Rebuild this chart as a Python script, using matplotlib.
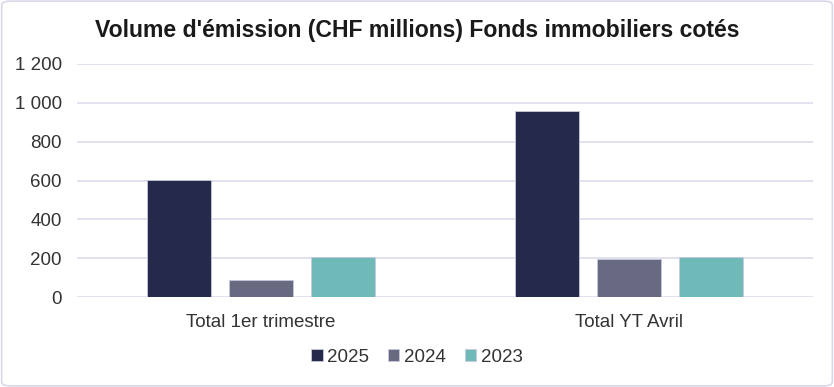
import matplotlib.pyplot as plt
import numpy as np
from matplotlib.patches import FancyBboxPatch

plt.rcParams['font.family'] = ['Liberation Sans', 'DejaVu Sans']

categories = ['Total 1er trimestre', 'Total YT Avril']
series = ['2025', '2024', '2023']
values = {
    '2025': [603, 958],
    '2024': [87, 198],
    '2023': [207, 208],
}
colors = {'2025': '#262a4a', '2024': '#686a82', '2023': '#6fbab9'}
yticks = [0, 200, 400, 600, 800, 1000, 1200]
yticklabels = ['0', '200', '400', '600', '800', '1 000', '1 200']

fig = plt.figure(figsize=(8.34, 3.87), dpi=100)
ax = fig.add_axes([77 / 834, 1 - 297 / 387, 736 / 834, 233 / 387])

x = np.arange(len(categories))
width = 0.174
step = 0.2228
for i, s in enumerate(series):
    ax.bar(x + (i - 1) * step, values[s], width, color=colors[s], label=s,
           edgecolor='#c8c8dc', linewidth=0.6, zorder=3)

ax.set_xlim(-0.5, 1.5)
ax.set_ylim(0, 1200)
ax.set_yticks(yticks)
ax.set_yticklabels(yticklabels)
ax.set_xticks(x)
ax.set_xticklabels(categories)
ax.grid(axis='y', color='#dcdcee', linewidth=1.2, zorder=0)
ax.tick_params(axis='both', length=0, labelsize=13.5, colors='#333333')
ax.tick_params(axis='y', pad=11)
ax.tick_params(axis='x', pad=12)
for sp in ax.spines.values():
    sp.set_visible(False)

fig.suptitle("Volume d'émission (CHF millions) Fonds immobiliers cotés",
             x=0.5, y=1 - 30 / 387, va='center', fontsize=16.6,
             fontweight='bold', color='#1a1a1a')

handles, labels = ax.get_legend_handles_labels()
fig.legend(handles, labels, loc='center', bbox_to_anchor=(0.5, 1 - 357 / 387), ncol=3,
           frameon=False, fontsize=13.5, handlelength=0.6, handleheight=0.6,
           handletextpad=0.25, columnspacing=1.0, labelcolor='#333333')

border = FancyBboxPatch((0.002, 0.003), 0.996, 0.994, boxstyle='round,pad=0,rounding_size=0.01',
                        transform=fig.transFigure, facecolor='none',
                        edgecolor='#d8d8ea', linewidth=1.2)
fig.patches.append(border)

fig.savefig('out.png', dpi=100)
